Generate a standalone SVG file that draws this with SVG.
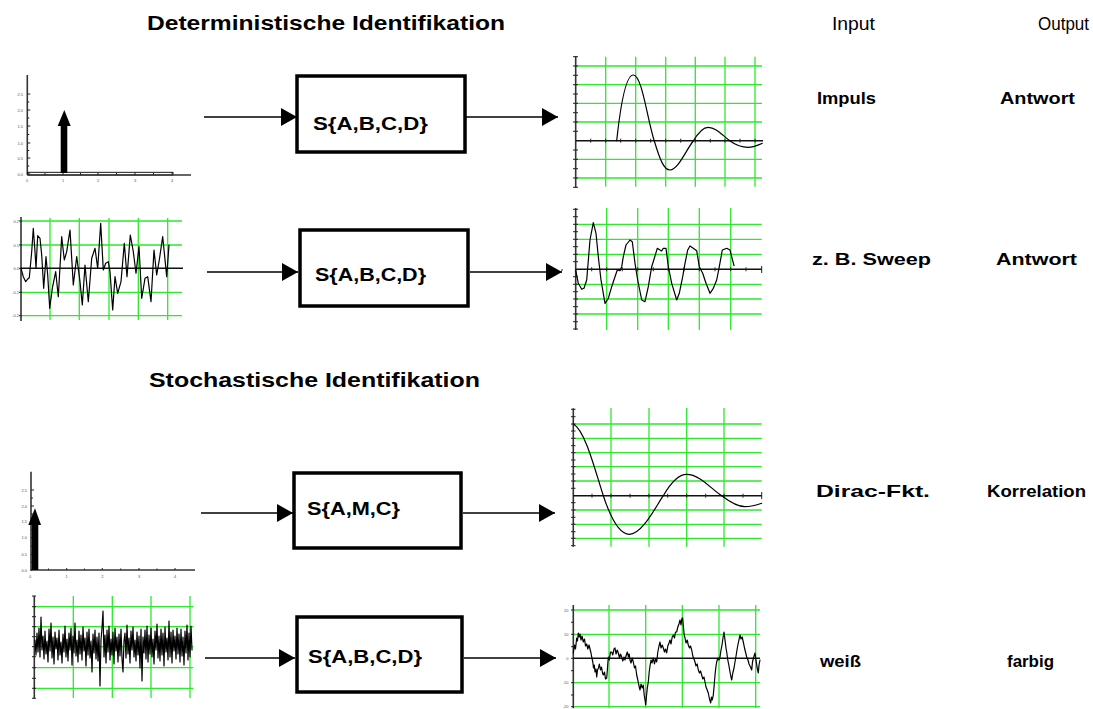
<svg xmlns="http://www.w3.org/2000/svg" width="1093" height="709" viewBox="0 0 1093 709">
  <style>
    .grid{fill:none;stroke:#2ee82e;stroke-width:1.3}
    .axis{fill:none;stroke:#333;stroke-width:1.6}
    .zero{fill:none;stroke:#111;stroke-width:1.5}
    .tick{fill:none;stroke:#222;stroke-width:1}
    .sig{fill:none;stroke:#000;stroke-width:1.2;stroke-linejoin:round;stroke-linecap:round}
    .box{fill:#fff;stroke:#000;stroke-width:3.5}
    .btxt{font-family:"Liberation Sans",Arial,sans-serif;font-weight:bold;font-size:19px;fill:#000}
    .lbl{font-family:"Liberation Sans",Arial,sans-serif;font-weight:bold;font-size:17px;fill:#000}
    .head{font-family:"Liberation Sans",Arial,sans-serif;font-weight:bold;font-size:20px;fill:#000}
    .col{font-family:"Liberation Sans",Arial,sans-serif;font-size:19px;fill:#000}
    .tiny{font-family:"Liberation Sans",Arial,sans-serif;font-size:4px;fill:#555}
    .conn{stroke:#000;stroke-width:1.3;fill:none}
  </style>
  <defs>
    <marker id="head" viewBox="0 0 16 18" refX="16" refY="9" markerWidth="16" markerHeight="18" markerUnits="userSpaceOnUse" orient="auto">
      <path d="M0,0 L16,9 L0,18 z" fill="#000"/>
    </marker>
  </defs>
  <rect width="1093" height="709" fill="#fff"/>

  <!-- headings -->
  <g id="headings">
    <text class="head" x="147" y="30" textLength="358" lengthAdjust="spacingAndGlyphs">Deterministische Identifikation</text>
    <text class="head" x="149" y="387" textLength="331" lengthAdjust="spacingAndGlyphs">Stochastische Identifikation</text>
    <text class="col" x="832" y="30" textLength="43" lengthAdjust="spacingAndGlyphs">Input</text>
    <text class="col" x="1038" y="30" textLength="51" lengthAdjust="spacingAndGlyphs">Output</text>
  </g>

  <!-- input / output labels -->
  <g id="labels">
    <text class="lbl" x="817" y="104" textLength="59" lengthAdjust="spacingAndGlyphs">Impuls</text>
    <text class="lbl" x="1000" y="104" textLength="75" lengthAdjust="spacingAndGlyphs">Antwort</text>
    <text class="lbl" x="812" y="265" textLength="119" lengthAdjust="spacingAndGlyphs">z. B. Sweep</text>
    <text class="lbl" x="996" y="265" textLength="81" lengthAdjust="spacingAndGlyphs">Antwort</text>
    <text class="lbl" x="816" y="497" textLength="114" lengthAdjust="spacingAndGlyphs">Dirac-Fkt.</text>
    <text class="lbl" x="987" y="497" textLength="99" lengthAdjust="spacingAndGlyphs">Korrelation</text>
    <text class="lbl" x="820" y="667" textLength="41" lengthAdjust="spacingAndGlyphs">weiß</text>
    <text class="lbl" x="1007" y="667" textLength="47" lengthAdjust="spacingAndGlyphs">farbig</text>
  </g>

  <!-- system blocks -->
  <g id="sys1">
    <rect class="box" x="297" y="76" width="168" height="76"/>
    <text class="btxt" x="313" y="130" textLength="115" lengthAdjust="spacingAndGlyphs">S{A,B,C,D}</text>
  </g>
  <g id="sys2">
    <rect class="box" x="300" y="230" width="168" height="76"/>
    <text class="btxt" x="315" y="281" textLength="111" lengthAdjust="spacingAndGlyphs">S{A,B,C,D}</text>
  </g>
  <g id="sys3">
    <rect class="box" x="294" y="473" width="167" height="75"/>
    <text class="btxt" x="307" y="515" textLength="93" lengthAdjust="spacingAndGlyphs">S{A,M,C}</text>
  </g>
  <g id="sys4">
    <rect class="box" x="297" y="617" width="165" height="75"/>
    <text class="btxt" x="308" y="663" textLength="114" lengthAdjust="spacingAndGlyphs">S{A,B,C,D}</text>
  </g>

  <!-- impulse input -->
  <g id="in-impulse">
    <path class="axis" d="M27.3,75 V175"/>
    <rect x="28" y="172.3" width="145" height="2.7" fill="none" stroke="#000" stroke-width="0.9"/>
    <path class="axis" d="M27.3,175 H191"/>
    <path class="tick" d="M27.3,174 h3 M27.3,158 h3 M27.3,143 h3 M27.3,126 h3 M27.3,110 h3 M27.3,94 h3 M27.3,166 h2 M27.3,150.5 h2 M27.3,134.5 h2 M27.3,118 h2 M27.3,102 h2 M63,175 v-3 M98,175 v-3 M135,175 v-3 M172,175 v-3 M45,175 v-2 M80.5,175 v-2 M116.5,175 v-2 M153.5,175 v-2"/>
    <g class="tiny" text-anchor="end">
      <text x="23" y="175.5">0.0</text><text x="23" y="159.5">0.5</text><text x="23" y="144.5">1.0</text>
      <text x="23" y="127.5">1.5</text><text x="23" y="111.5">2.0</text><text x="23" y="95.5">2.5</text>
    </g>
    <g class="tiny" text-anchor="middle">
      <text x="27" y="182">0</text><text x="63" y="182">1</text><text x="98" y="182">2</text><text x="135" y="182">3</text><text x="172" y="182">4</text>
    </g>
    <rect x="60.7" y="125" width="6.6" height="48" fill="#000"/>
    <path d="M57.7,126 L70.7,126 L64.3,110 z" fill="#000"/>
  </g>

  <!-- sweep input -->
  <g id="in-sweep">
    <path class="grid" d="M21,221 H182 M21,245 H182 M21,292.3 H182 M21,315.7 H182 M50,218 V320 M79.3,218 V320 M109,218 V320 M138.3,218 V320 M167.7,218 V320"/>
    <path class="axis" d="M21,217 V321"/>
    <path class="zero" d="M21,268.3 H183"/>
    <path class="tick" d="M19,221 h3 M19,245 h3 M19,268.3 h3 M19,292.3 h3 M19,315.7 h3"/>
    <g class="tiny" text-anchor="end">
      <text x="19" y="222.5">0.2</text><text x="19" y="246.5">0.1</text><text x="19" y="269.8">0.0</text>
      <text x="19" y="293.8">-0.1</text><text x="19" y="317.2">-0.2</text>
    </g>
    <polyline class="sig" points="21,268.3 23.3,276.7 25.7,281.7 27.7,279 29.3,277.7 31.7,251.7 33.3,228.3 35,251.7 36,268.3 37.7,235.7 40,238.3 41.7,255 43.7,288.3 46,256.7 47.7,275 49.7,308.3 52.3,288.3 55.7,271.7 58.3,296.7 61.7,236.7 64.3,260 66.7,251.7 70,230 73.3,285 76.7,256.7 80,281.7 82.3,305 85,265 88.3,301.7 91.7,258.3 95,248.3 97.7,268.3 100.7,223.3 103.3,270 105.7,263.3 108.3,261.7 110,271.7 112.7,310 115,276.7 117.7,293.3 121,281.7 124.3,243.3 127,276.7 130.3,235 133.3,251.7 136,273.3 139,246.7 141.7,298.3 145,278.3 147.7,276.7 151,301.7 154,250 156.7,275 159.3,260 162.7,236.7 166.7,276.7 169,245"/>
  </g>

  <!-- impulse response -->
  <g id="out-impulse">
    <path class="grid" d="M575.7,66 H762 M575.7,84.7 H762 M575.7,103.3 H762 M575.7,122 H762 M575.7,159.3 H762 M575.7,178 H762 M605.7,56.7 V186.7 M635.7,56.7 V186.7 M665.7,56.7 V186.7 M695.3,56.7 V186.7 M725,56.7 V186.7 M755,56.7 V186.7"/>
    <path class="axis" d="M575.7,56 V187.5"/>
    <path class="zero" d="M575.7,140.7 H763"/>
    <path class="tick" d="M573,56.7 h5 M573,66 h5 M573,75.3 h5 M573,84.7 h5 M573,94 h5 M573,103.3 h5 M573,112.7 h5 M573,122 h5 M573,131.3 h5 M573,150 h5 M573,159.3 h5 M573,168.7 h5 M573,178 h5 M573,187.3 h5 M590.7,138.7 v4 M605.7,138.7 v4 M620.7,138.7 v4 M635.7,138.7 v4 M650.7,138.7 v4 M665.7,138.7 v4 M680.7,138.7 v4 M695.3,138.7 v4 M710.3,138.7 v4 M725,138.7 v4 M740,138.7 v4 M755,138.7 v4"/>
    <path class="sig" d="M616.7,140.7 C620,110 625,75 633.3,75 C642,75 647,118 654.3,141 C660,160 664,170 670,170 C678,170 686,150 693.3,141 C698,133 703,127.3 708.3,127.3 C716,127.3 722,135 730,141 C737,146 742,147.3 748.3,147.3 C754,147.3 758,145 762.3,143.3"/>
  </g>

  <!-- sweep response -->
  <g id="out-sweep">
    <path class="grid" d="M575.7,224.3 H761.7 M575.7,239.3 H761.7 M575.7,254.3 H761.7 M575.7,284.3 H761.7 M575.7,299 H761.7 M575.7,314 H761.7 M606.7,208 V330 M637.7,208 V330 M668.3,208 V330 M699.3,208 V330 M730.7,208 V330"/>
    <path class="axis" d="M575.7,208 V330"/>
    <path class="zero" d="M575.7,269.3 H762"/>
    <path class="tick" d="M573,209.3 h5 M573,216.7 h5 M573,224.3 h5 M573,231.7 h5 M573,239.3 h5 M573,246.7 h5 M573,254.3 h5 M573,261.7 h5 M573,276.7 h5 M573,284.3 h5 M573,291.7 h5 M573,299 h5 M573,306.7 h5 M573,314 h5 M573,321.7 h5 M573,329 h5 M591.7,267.3 v4 M606.7,267.3 v4 M622.3,267.3 v4 M637.7,267.3 v4 M653.3,267.3 v4 M668.3,267.3 v4 M684,267.3 v4 M699.3,267.3 v4 M715,267.3 v4 M730.7,267.3 v4 M746,267.3 v4 M761.7,266 v7"/>
    <path class="tick" d="M561,270 h2"/>
    <polyline class="sig" points="575.7,270 578.3,283.3 581.7,289.3 584,288.3 586.7,280 590,240 593.3,222.7 596,233.3 598.3,256.7 601,280 605,303.3 608.3,298.3 611.7,286.7 615,276.7 617.3,270 620,270.7 621.7,266.7 623.3,256.7 626,245 630,240 632.3,241.7 635,263.3 637.7,280 641.7,300 645,301.7 648.3,286.7 651.7,266.7 654.3,258.3 657.3,248.3 660,250 661.7,251 663.3,248.3 666,248.3 668.3,266.7 671.7,283.3 676.7,300 679.3,293.3 682.7,276.7 685,263.3 687.7,250 690,246 693.3,248.3 696.7,250.7 699.3,266.7 702.7,273.3 706,283.3 710,293.3 713.3,288.3 716.7,280 719.3,266.7 722.3,250 726.7,248.3 730,250 734,265.7"/>
  </g>

  <!-- dirac input -->
  <g id="in-dirac">
    <path class="axis" d="M31,471.7 V571"/>
    <path class="axis" d="M31,570 H195"/>
    <path class="tick" d="M31,490 h3 M31,506 h3 M31,521.7 h3 M31,537.7 h3 M31,554.3 h3 M31,498 h2 M31,514 h2 M31,529.7 h2 M31,546 h2 M31,562 h2 M66.7,570 v-2 M102.3,570 v-2 M139,570 v-2 M175,570 v-2 M48.5,570 v-1.5 M84.5,570 v-1.5 M120.7,570 v-1.5 M157,570 v-1.5"/>
    <g class="tiny" text-anchor="end">
      <text x="27" y="491.5">2.5</text><text x="27" y="507.5">2.0</text><text x="27" y="523">1.5</text>
      <text x="27" y="539">1.0</text><text x="27" y="555.8">0.5</text><text x="27" y="571.5">0.0</text>
    </g>
    <g class="tiny" text-anchor="middle">
      <text x="30" y="578">0</text><text x="66.7" y="578">1</text><text x="102.3" y="578">2</text><text x="139" y="578">3</text><text x="175" y="578">4</text>
    </g>
    <rect x="31.7" y="524" width="6.6" height="46" fill="#000"/>
    <path d="M28.3,525 L41,525 L35,508.3 z" fill="#000"/>
  </g>

  <!-- white noise input -->
  <g id="in-white">
    <path class="grid" d="M34.3,606.7 H193.3 M34.3,626.7 H193.3 M34.3,646.7 H193.3 M34.3,667.7 H193.3 M34.3,688.3 H193.3 M73.3,596 V698 M112.3,596 V698 M151,596 V698 M190,596 V698"/>
    <path class="axis" d="M34.3,596 V698.3"/>
    <path class="tick" d="M32,596 h4 M32,606.7 h4 M32,616.7 h4 M32,626.7 h4 M32,636.7 h4 M32,646.7 h4 M32,656.7 h4 M32,667.7 h4 M32,678.3 h4 M32,688.3 h4 M32,698.3 h4"/>
    <polyline class="sig" stroke-width="1.9" stroke-linejoin="miter" points="35,640 36,655 37,633 38,652 39,628 40,657 41,617 42,650 43,636 44,659 45,631 46,654 47,641 48,662 49,629 50,651 51,623 52,658 53,637 54,664 55,632 56,649 57,638 58,660 59,630 60,655 61,642 62,663 63,634 64,652 65,626 66,657 67,639 68,661 69,633 70,650 71,628 72,665 73,636 74,653 75,623 76,656 77,640 78,662 79,631 80,654 81,635 82,660 83,627 84,651 85,638 86,666 87,632 88,655 89,629 90,658 91,641 92,672 93,634 94,653 95,630 96,659 97,637 98,661 99,633 100,686 101,640 102,628 103,611 104,657 105,635 106,663 107,630 108,652 109,626 110,660 111,639 112,655 113,632 114,664 115,628 116,651 117,637 118,662 119,634 120,656 121,629 122,659 123,672 124,641 125,633 126,658 127,625 128,654 129,638 130,663 131,631 132,650 133,627 134,657 135,640 136,661 137,632 138,655 139,636 140,668 141,629 142,681 143,637 144,653 145,630 146,659 147,626 148,662 149,635 150,654 151,628 152,657 153,639 154,664 155,631 156,650 157,624 158,658 159,636 160,661 161,629 162,655 163,633 164,666 165,627 166,652 167,638 168,660 169,621 170,657 171,632 172,663 173,630 174,651 175,636 176,659 177,628 178,654 179,634 180,662 181,629 182,656 183,637 184,665 185,631 186,653 187,625 188,660 189,633 190,657 191,626 192,650"/>
  </g>

  <!-- correlation output -->
  <g id="out-corr">
    <path class="grid" d="M573.3,424 H761.7 M573.3,438.3 H761.7 M573.3,452.7 H761.7 M573.3,466.7 H761.7 M573.3,481 H761.7 M573.3,510 H761.7 M573.3,524.3 H761.7 M573.3,538.3 H761.7 M611,408 V546.7 M649,408 V546.7 M686.7,408 V546.7 M724,408 V546.7"/>
    <path class="axis" d="M573.3,408.3 V546.7"/>
    <path class="zero" d="M573.3,495.7 H762"/>
    <path class="tick" d="M571,409.3 h4.5 M571,416.7 h4.5 M571,424 h4.5 M571,431 h4.5 M571,438.3 h4.5 M571,445.7 h4.5 M571,452.7 h4.5 M571,460 h4.5 M571,466.7 h4.5 M571,474 h4.5 M571,481 h4.5 M571,488.3 h4.5 M571,502.7 h4.5 M571,510 h4.5 M571,517.3 h4.5 M571,524.3 h4.5 M571,531.7 h4.5 M571,538.3 h4.5 M571,545.7 h4.5 M592,493.7 v4 M611,493.7 v4 M630,493.7 v4 M649,493.7 v4 M667.7,493.7 v4 M686.7,493.7 v4 M705.7,493.7 v4 M724,493.7 v4 M743,493.7 v4 M761.7,492 v7"/>
    <path class="sig" d="M573.3,424 C585,430 595,470 603.3,495.7 C612,522 620,534.3 629.3,534.3 C642,534.3 655,508 663.3,495.7 C670,484 678,474.3 686.7,474.3 C700,474.3 712,490 721.7,495.7 C730,502 738,506.7 745,506.7 C752,506.7 757,505 761.7,503.3"/>
  </g>

  <!-- coloured noise output -->
  <g id="out-colored">
    <path class="grid" d="M573.3,610 H760 M573.3,634.3 H760 M573.3,682.7 H760 M573.3,706.7 H760 M609,605 V708 M645.7,605 V708 M682.3,605 V708 M719,605 V708 M755.7,605 V708"/>
    <path class="axis" d="M573.3,605 V708.3"/>
    <path class="zero" d="M573.3,658.3 H760"/>
    <path class="tick" d="M571,610 h3 M571,622.3 h3 M571,634.3 h3 M571,646.7 h3 M571,658.3 h3 M571,670.7 h3 M571,682.7 h3 M571,695 h3 M571,706.7 h3"/>
    <g class="tiny" text-anchor="end">
      <text x="568.5" y="611.5">20</text><text x="568.5" y="635.8">10</text><text x="568.5" y="659.8">0</text>
      <text x="568.5" y="684.2">-10</text><text x="568.5" y="708">-20</text>
    </g>
    <polyline class="sig" stroke-width="1.8" points="573.3,653 574.5,645 575.5,649 576.7,638 577.5,641 578.3,633 579.2,637 580,634 581,640 582,636 583.3,642 584.5,639 585.5,646 586.7,644 587.8,649 589,645 590,649 591,653 591.7,657 592.8,662 593.5,668 594.3,665 595,672 596,669 596.7,677 597.5,670 598.5,668 599.3,664 600.5,670 601.5,667 602.5,673 603.3,675 604.5,672 605.5,679 606.7,678 607.5,668 608.3,657 609.3,660 610.5,652 611.7,652 612.8,655 614,649 615,648 616,654 617.2,650 618.3,653 619.5,658 620.5,654 621.7,657 622.8,661 624,657 625,660 626,656 627.3,652 628.5,657 629.2,654 630,660 631,663 632.2,658 633.3,662 634.5,668 635.5,666 636.7,675 637.8,680 639,686 640,690 641,684 642.2,688 643.3,685 644.2,695 645,700 645.7,705 646.5,696 647.3,688 648.3,682 649.2,672 650,666 651,660 652,663 653.3,658 654.5,664 655.5,659 656.7,662 657.8,652 659,646 660,642 661,648 662.2,645 663.3,648 664.5,652 665.5,649 666.7,653 667.8,646 669,643 670,640 671,644 672.2,637 673.3,635 674.5,638 675.5,632 676.7,632 677.8,627 679,624 680,620 681,625 681.8,619 682.7,618 683.5,628 684.2,635 685,638 686,643 687.2,640 688.3,645 689.5,648 690.5,646 691.7,650 692.8,656 694,659 695,662 696,666 697.2,664 698.3,670 699.5,673 700.5,671 701.7,675 702.8,679 704,677 705,682 706,687 707.2,690 708.3,693 709.5,699 710.7,703 711.5,697 712.3,700 713.3,695 714.2,685 715,675 716,666 716.7,662 717.8,658 719,660 720,657 721,650 722,645 723,638 724,632 725,640 726,648 726.7,652 727.8,660 729,666 730,672 731,677 731.7,680 732.8,673 734,668 735,662 736.2,655 737.3,648 738.5,642 740,635 741,639 742.2,637 743.3,642 744.5,648 745.5,652 746.7,657 748,660 749,664 750.5,667 751.7,670 752.5,662 753.5,658 755,653 756,660 757,667 758.3,673 759,665 760,660"/>
  </g>

  <!-- signal flow arrows -->
  <g id="connectors">
    <line class="conn" x1="204" y1="117" x2="297" y2="117" marker-end="url(#head)"/>
    <line class="conn" x1="466" y1="117" x2="558" y2="117" marker-end="url(#head)"/>
    <line class="conn" x1="207" y1="272" x2="298" y2="272" marker-end="url(#head)"/>
    <line class="conn" x1="470" y1="272" x2="562" y2="272" marker-end="url(#head)"/>
    <line class="conn" x1="201" y1="513" x2="293" y2="513" marker-end="url(#head)"/>
    <line class="conn" x1="463" y1="513" x2="555" y2="513" marker-end="url(#head)"/>
    <line class="conn" x1="205" y1="658" x2="295" y2="658" marker-end="url(#head)"/>
    <line class="conn" x1="464" y1="658" x2="556" y2="658" marker-end="url(#head)"/>
  </g>
</svg>
